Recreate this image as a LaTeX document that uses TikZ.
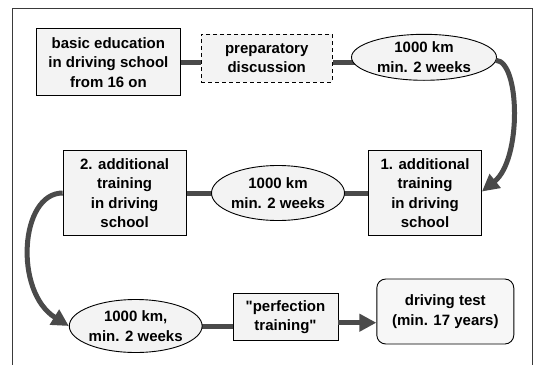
\documentclass[tikz,border=0pt]{standalone}
\usepackage{fontspec}
% a family of its own keeps straight quotation marks as typed
\newfontfamily\diagfont{Liberation Sans}
\usetikzlibrary{shapes.geometric,arrows.meta,backgrounds}
\definecolor{boxfill}{HTML}{F3F3F3}
\definecolor{flow}{HTML}{4A4A4A}
\definecolor{framegray}{HTML}{3A3A3A}
\begin{document}
\begin{tikzpicture}[x=1pt,y=-1pt,
  label text/.style={font=\diagfont\bfseries\fontsize{15}{19.5}\selectfont, align=center, inner sep=0pt},
  stagebox/.style={label text, rectangle, draw=black, line width=0.9pt, fill=boxfill},
  planbox/.style={stagebox, dash pattern=on 4pt off 3pt},
  kmoval/.style={label text, ellipse, draw=black, line width=0.9pt, fill=boxfill},
  goalbox/.style={stagebox, rounded corners=9pt, fill=boxfill!70!white},
  flowline/.style={draw=flow, line width=5pt},
  flowarrow/.style={flowline, -{Triangle[length=17pt,width=17pt]}}]

  \useasboundingbox (0,0) rectangle (537,364);

  % stages of the course
  \node[stagebox, minimum width=144pt, minimum height=67pt] (basic) at (108.4,62.3)
    {basic education\\in driving school\\from 16 on};
  \node[planbox, minimum width=131pt, minimum height=48pt] (prep) at (266.7,58)
    {preparatory\\discussion};
  \node[kmoval, minimum width=145pt, minimum height=46pt] (kmA) at (424,57.3)
    {1000 km\\min. 2 weeks};

  \node[stagebox, minimum width=113pt, minimum height=85pt] (addA) at (425,193)
    {1. additional\\training\\in driving\\school};
  \node[kmoval, minimum width=133pt, minimum height=55pt] (kmB) at (278,193)
    {1000 km\\min. 2 weeks};
  \node[stagebox, minimum width=123pt, minimum height=85pt] (addB) at (124.6,193)
    {2. additional\\training\\in driving\\school};

  \node[kmoval, minimum width=131pt, minimum height=53pt] (kmC) at (135.7,326)
    {1000 km,\\min. 2 weeks};
  \node[stagebox, minimum width=105pt, minimum height=47pt] (perf) at (285.5,317)
    {"perfection\\training"};
  \node[goalbox, minimum width=137pt, minimum height=65pt] (test) at (445.3,311.5)
    {driving test\\(min. 17 years)};

  \begin{pgfonlayer}{background}
    \fill[white] (0,0) rectangle (537,364);
    \draw[framegray, line width=0.8pt] (12,366) -- (12,8) -- (532,8) -- (532,366);

    % straight links
    \draw[flowline] ([yshift=-0.2pt]basic.east) -- ([yshift=-0.2pt]basic.east -| prep.west);
    \draw[flowline] ([yshift=-4.5pt]prep.east) -- ([yshift=-4.5pt]prep.east -| kmA.center);
    \draw[flowline] (addA.west) -- (kmB.center);
    \draw[flowline] (kmB.center) -- (addB.east);
    \draw[flowline] (kmC.center) -- (kmC.center -| perf.west);
  \end{pgfonlayer}

  % arrows
  \draw[flowarrow] ([yshift=-5.7pt]perf.east) -- ([yshift=-5.7pt]perf.east -| test.west);
  \draw[flowarrow] ([shift={(-1pt,-3pt)}]kmA.east) .. controls +(24,1) and +(40,-32) .. ([yshift=1.5pt]addA.east);
  \draw[flowarrow] (addB.west) .. controls +(-43,0) and +(-55,-34) .. (kmC.west);
\end{tikzpicture}
\end{document}
